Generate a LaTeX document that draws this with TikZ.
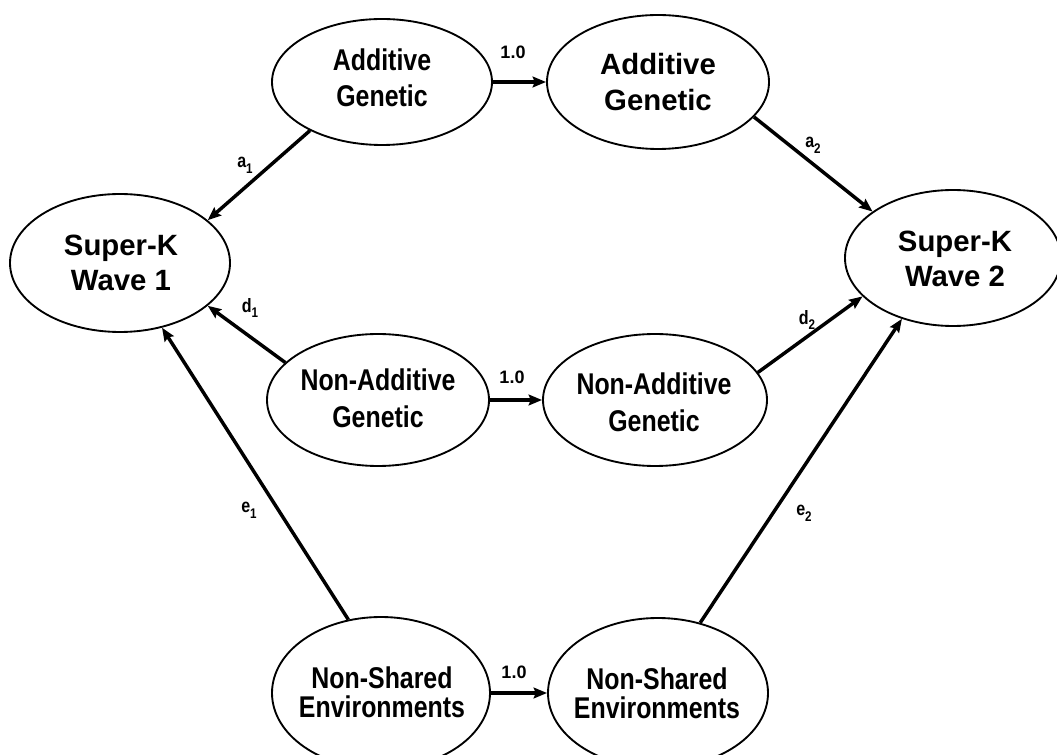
\documentclass[tikz,border=0pt]{standalone}
\usepackage{fontspec}
\setmainfont{Liberation Sans}
\newfontfamily\narrowfont{Liberation Sans}[FakeStretch=0.83]
\usetikzlibrary{shapes.geometric,arrows.meta}
\newcommand{\sbs}[1]{\raisebox{-0.55ex}{\fontsize{10.5}{11}\selectfont #1}}
\begin{document}
\begin{tikzpicture}[x=0.75pt,y=-0.75pt,
  ellnode/.style n args={2}{ellipse, draw, line width=1.4pt, minimum width=#1*1.5pt, minimum height=#2*1.5pt, inner sep=0pt},
  widetext/.style={align=center, font=\fontsize{22}{#1}\selectfont\bfseries, inner sep=0pt},
  narrowtext/.style={align=center, font=\fontsize{22.5}{#1}\selectfont\narrowfont\bfseries, inner sep=0pt},
  conn/.style={line width=2.6pt, -{Stealth[length=10pt,width=8pt,inset=1.5pt]}},
  lab/.style={font=\fontsize{14.5}{15}\selectfont\narrowfont\bfseries, inner sep=0pt},
  onelab/.style={font=\fontsize{13.5}{15}\selectfont\bfseries, inner sep=0pt}]
\clip (0,0) rectangle (1057,755);
\fill[white] (0,0) rectangle (1057,755);
% ellipses
\node[ellnode={110}{69}] (sk1) at (120,263) {};
\node[ellnode={108}{68}] (sk2) at (953,258) {};
\node[ellnode={110}{63}] (ag1) at (382,82) {};
\node[ellnode={111}{67}] (ag2) at (658,82) {};
\node[ellnode={111}{66}] (nag1) at (378,400) {};
\node[ellnode={112}{66}] (nag2) at (655,400) {};
\node[ellnode={109}{76}] (nse1) at (381,693) {};
\node[ellnode={110}{75}] (nse2) at (658,693) {};
% texts
\node[widetext=26pt] (sk1t) at (121,263) {Super-K\\Wave 1};
\node[widetext=26pt] (sk2t) at (955,259) {Super-K\\Wave 2};
\node[narrowtext=27pt] (ag1t) at (382,78) {Additive\\Genetic};
\node[widetext=26.5pt] (ag2t) at (658,82) {Additive\\Genetic};
\node[narrowtext=28pt] (nag1t) at (378,398) {Non-Additive\\Genetic};
\node[narrowtext=28pt] (nag2t) at (654,402) {Non-Additive\\Genetic};
\node[narrowtext=22pt] (nse1t) at (382,692) {Non-Shared\\Environments};
\node[narrowtext=22pt] (nse2t) at (657,693) {Non-Shared\\Environments};
% connectors
\draw[conn] (ag1.214) -- (sk1.26);
\draw[conn] (ag2.340) -- (sk2.150);
\draw[conn] (nag1.158) -- (sk1.334);
\draw[conn] (nag2.15) -- (sk2.203);
\draw[conn] (nse1.114) -- (sk1.303);
\draw[conn] (nse2.59) -- (sk2.230);
\draw[conn] (ag1.east) -- (ag2.west);
\draw[conn] (nag1.east) -- (nag2.west);
\draw[conn] (nse1.east) -- (nse2.west);
% labels
\node[lab] (la1) at (245,165) {a\sbs{1}};
\node[lab] (la2) at (813,145) {a\sbs{2}};
\node[lab] (ld1) at (250,308) {d\sbs{1}};
\node[lab] (ld2) at (807,320) {d\sbs{2}};
\node[lab] (le1) at (249,510) {e\sbs{1}};
\node[lab] (le2) at (804,513) {e\sbs{2}};
\node[onelab] (l10a) at (513,52) {1.0};
\node[onelab] (l10b) at (512,377) {1.0};
\node[onelab] (l10c) at (514,672) {1.0};
\end{tikzpicture}
\end{document}
